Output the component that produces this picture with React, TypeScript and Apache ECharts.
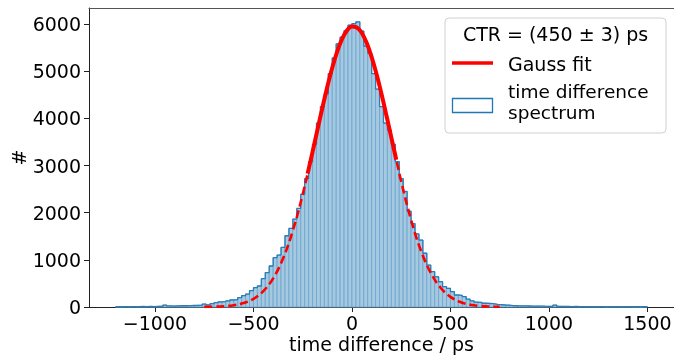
import React, { useEffect, useRef } from "react";
import * as echarts from "echarts";

// ---- data ----
const binStart = -1200;
const binWidth = 20;
// counts per 20 ps bin, from -1200 ps to 1500 ps (135 bins)
const counts = [
  8, 6, 9, 7, 10, 8, 11, 9, 12, 10,
  14, 16, 38, 22, 20, 24, 27, 26, 30, 32,
  34, 38, 62, 45, 72, 92, 108, 115, 130, 148,
  155, 198, 240, 275, 346, 410, 445, 600, 730, 869,
  1045, 1101, 1264, 1511, 1667, 1864, 2090, 2390, 2720, 3080,
  3450, 3900, 4250, 4520, 4950, 5280, 5580, 5720, 5860, 5975,
  6010, 6045, 5850, 5530, 5380, 4950, 4620, 4250, 3900, 3750,
  3450, 3080, 2720, 2450, 2030, 1770, 1550, 1420, 1140, 890,
  750, 640, 536, 430, 396, 324, 254, 245, 219, 165,
  130, 105, 95, 80, 78, 70, 57, 50, 42, 40,
  30, 26, 24, 22, 21, 20, 18, 20, 17, 15,
  14, 38, 13, 12, 11, 10, 12, 9, 10, 8,
  9, 7, 8, 10, 6, 8, 7, 9, 6, 7,
  8, 6, 7, 5, 9,
];
// Gauss fit, full extent (dashed)
const fitTailX = [
  -750, -700, -650, -600, -550, -500, -450, -400, -350, -300, -250, -200, -150, -100, -50,
  0, 50, 100, 150, 200, 250, 300, 350, 400, 450, 500, 550, 600, 650, 700, 750,
];
const fitTailY = [
  2, 6, 16, 38, 83, 174, 336, 608, 1028, 1622, 2391, 3290, 4228, 5073, 5684,
  5947, 5810, 5300, 4517, 3592, 2667, 1849, 1197, 724, 409, 215, 106, 49, 21, 8, 3,
];
// Gauss fit, fitted range (solid)
const fitCoreX = [
  -225, -200, -175, -150, -125, -100, -75, -50, -25, 0, 25, 50, 75, 100, 125, 150, 175, 200, 225,
];
const fitCoreY = [
  2828, 3290, 3762, 4228, 4671, 5073, 5415, 5684, 5864, 5947, 5928, 5810, 5597, 5300, 4934, 4517,
  4061, 3592, 3122,
];
const xTicks = [-1000, -500, 0, 500, 1000, 1500];
const yTicks = [0, 1000, 2000, 3000, 4000, 5000, 6000];
const xRange = [-1335, 1635];
const yRange = [0, 6340];
const xTitle = "time difference / ps";
const yTitle = "#";
const legendTitle = "CTR = (450 ± 3) ps";
const fitLabel = "Gauss fit";
const histLabel = ["time difference", "spectrum"];

const FONT = "DejaVu Sans";
const AX = "#222";

export default function App() {
  const ref = useRef<HTMLDivElement>(null);
  useEffect(() => {
    if (!ref.current) return;
    const chart = echarts.init(ref.current, null, { renderer: "svg" });
    const bars = counts.map((c, i) => [binStart + i * binWidth, binStart + (i + 1) * binWidth, c]);
    const step: number[][] = [[binStart, 0]];
    counts.forEach((c, i) => step.push([binStart + i * binWidth, c]));
    step.push([binStart + counts.length * binWidth, counts[counts.length - 1]]);
    step.push([binStart + counts.length * binWidth, 0]);
    const minus = (v: number) => String(v).replace("-", "\u2212");

    chart.setOption({
      animation: false,
      textStyle: { fontFamily: FONT },
      grid: { left: 89, right: 0, top: 8, bottom: 48, containLabel: false, outerBoundsMode: "none" },
      xAxis: [
        {
          type: "value",
          min: xRange[0],
          max: xRange[1],
          name: xTitle,
          nameLocation: "middle",
          nameGap: 27,
          nameMoveOverlap: false,
          nameTextStyle: { fontSize: 19, color: "#000", fontFamily: FONT, lineHeight: 19 },
          axisLine: { show: true, onZero: false, lineStyle: { color: AX, width: 1 } },
          axisTick: { show: true, length: 5, lineStyle: { color: AX }, customValues: xTicks },
          axisLabel: {
            customValues: xTicks,
            fontSize: 19,
            color: "#000",
            margin: 6,
            fontFamily: FONT,
            formatter: (v: number) => minus(v),
          },
          splitLine: { show: false },
        },
        {
          type: "value",
          position: "top",
          min: xRange[0],
          max: xRange[1],
          axisLine: { show: true, onZero: false, lineStyle: { color: "#555", width: 1 } },
          axisTick: { show: false },
          axisLabel: { show: false },
          splitLine: { show: false },
        },
      ],
      yAxis: {
        type: "value",
        min: yRange[0],
        max: yRange[1],
        name: yTitle,
        nameLocation: "middle",
        nameRotate: 90,
        nameGap: 61,
        nameMoveOverlap: false,
        nameTextStyle: { fontSize: 19, color: "#000", fontFamily: FONT, lineHeight: 19 },
        axisLine: { show: true, onZero: false, lineStyle: { color: AX, width: 1 } },
        axisTick: { show: true, length: 5, lineStyle: { color: AX }, customValues: yTicks },
        axisLabel: {
          customValues: yTicks,
          fontSize: 19,
          color: "#000",
          margin: 8,
          fontFamily: FONT,
          formatter: (v: number) => String(v),
        },
        splitLine: { show: false },
      },
      series: [
        {
          type: "custom",
          xAxisIndex: 0,
          data: bars,
          encode: { x: [0, 1], y: 2 },
          z: 1,
          renderItem: (_p: any, api: any) => {
            const a = api.coord([api.value(0), api.value(2)]);
            const b = api.coord([api.value(1), 0]);
            return {
              type: "rect",
              shape: { x: a[0], y: a[1], width: b[0] - a[0], height: b[1] - a[1] },
              style: { fill: "#a5c9e1", stroke: "#74aad1", lineWidth: 1 },
            };
          },
        },
        {
          type: "line",
          data: step,
          step: "end",
          showSymbol: false,
          z: 2,
          lineStyle: { color: "#2a7db8", width: 1.3 },
        },
        {
          type: "line",
          data: fitTailX.map((x, i) => [x, fitTailY[i]]),
          smooth: 0.4,
          showSymbol: false,
          z: 3,
          lineStyle: { color: "#ff0000", width: 2.6, type: [8, 4] },
        },
        {
          type: "line",
          data: fitCoreX.map((x, i) => [x, fitCoreY[i]]),
          smooth: 0.4,
          showSymbol: false,
          z: 4,
          lineStyle: { color: "#ff0000", width: 4 },
        },
      ],
      graphic: [
        {
          type: "rect",
          z: 100,
          shape: { x: 445, y: 18, width: 221, height: 115, r: 4 },
          style: { fill: "rgba(255,255,255,0.85)", stroke: "#d0d0d0", lineWidth: 1 },
        },
        {
          type: "text",
          z: 101,
          x: 555.5,
          y: 34,
          style: { text: legendTitle, font: `19px '${FONT}'`, fill: "#000", align: "center", verticalAlign: "middle" },
        },
        {
          type: "line",
          z: 101,
          shape: { x1: 452, y1: 63, x2: 493, y2: 63 },
          style: { stroke: "#ff0000", lineWidth: 3.7 },
        },
        {
          type: "text",
          z: 101,
          x: 508,
          y: 64,
          style: { text: fitLabel, font: `19px '${FONT}'`, fill: "#000", align: "left", verticalAlign: "middle" },
        },
        {
          type: "rect",
          z: 101,
          shape: { x: 452.5, y: 98.5, width: 40, height: 14 },
          style: { fill: "none", stroke: "#1f77b4", lineWidth: 1.3 },
        },
        {
          type: "text",
          z: 101,
          x: 508,
          y: 91.2,
          style: {
            text: histLabel[0],
            font: `18.5px '${FONT}'`,
            fill: "#000",
            align: "left",
            verticalAlign: "middle",
          },
        },
        {
          type: "text",
          z: 101,
          x: 508,
          y: 112.6,
          style: {
            text: histLabel[1],
            font: `18.5px '${FONT}'`,
            fill: "#000",
            align: "left",
            verticalAlign: "middle",
          },
        },
      ],
    });
    return () => chart.dispose();
  }, []);
  return <div ref={ref} style={{ position: "fixed", left: 0, top: 0, width: 674, height: 355 }} />;
}
